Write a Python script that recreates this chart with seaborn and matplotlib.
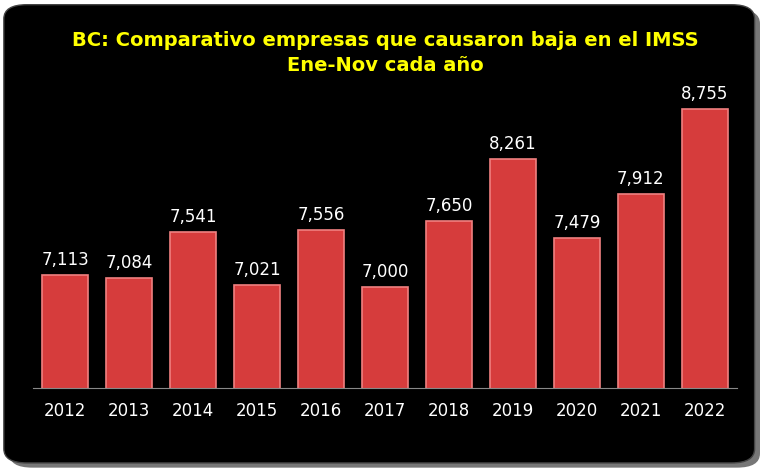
import matplotlib
matplotlib.use("Agg")
import matplotlib.pyplot as plt
from matplotlib.patches import FancyBboxPatch
import seaborn as sns
import pandas as pd

years = ["2012","2013","2014","2015","2016","2017","2018","2019","2020","2021","2022"]
values = [7113,7084,7541,7021,7556,7000,7650,8261,7479,7912,8755]
title = "BC: Comparativo empresas que causaron baja en el IMSS\nEne-Nov cada año"

df = pd.DataFrame({"year": years, "value": values})

fig = plt.figure(figsize=(7.7, 4.7), dpi=100)
fig.patch.set_facecolor("white")
shadow = FancyBboxPatch((0.012, 0.005), 0.975, 0.975, boxstyle="round,pad=0,rounding_size=0.03",
                        transform=fig.transFigure, facecolor="#777777", edgecolor="none", zorder=-2)
panel = FancyBboxPatch((0.005, 0.015), 0.975, 0.975, boxstyle="round,pad=0,rounding_size=0.03",
                       transform=fig.transFigure, facecolor="black", edgecolor="#444444", zorder=-1)
fig.patches.extend([shadow, panel])

ax = fig.add_axes([0.043, 0.174, 0.914, 0.647])
ax.set_zorder(5)
ax.set_facecolor("none")
sns.barplot(data=df, x="year", y="value", color="#d63c3c", width=0.72, ax=ax,
            edgecolor="#f08080", linewidth=1.2, saturation=1)
ax.set_ylim(6000, 9000)
for i, v in enumerate(values):
    ax.text(i, v + 60, f"{v:,}", ha="center", va="bottom", color="white", fontsize=12)
ax.set_xlabel(""); ax.set_ylabel("")
ax.set_yticks([])
for s in ["top", "right", "left"]:
    ax.spines[s].set_visible(False)
ax.spines["bottom"].set_color("#888888")
ax.tick_params(axis="x", colors="white", labelsize=12, length=0, pad=10)
fig.text(0.5, 0.935, title, ha="center", va="top", color="#ffff00", fontsize=14,
         fontweight="bold", linespacing=1.4, zorder=6)
fig.savefig("out.png", dpi=100, facecolor="white")
